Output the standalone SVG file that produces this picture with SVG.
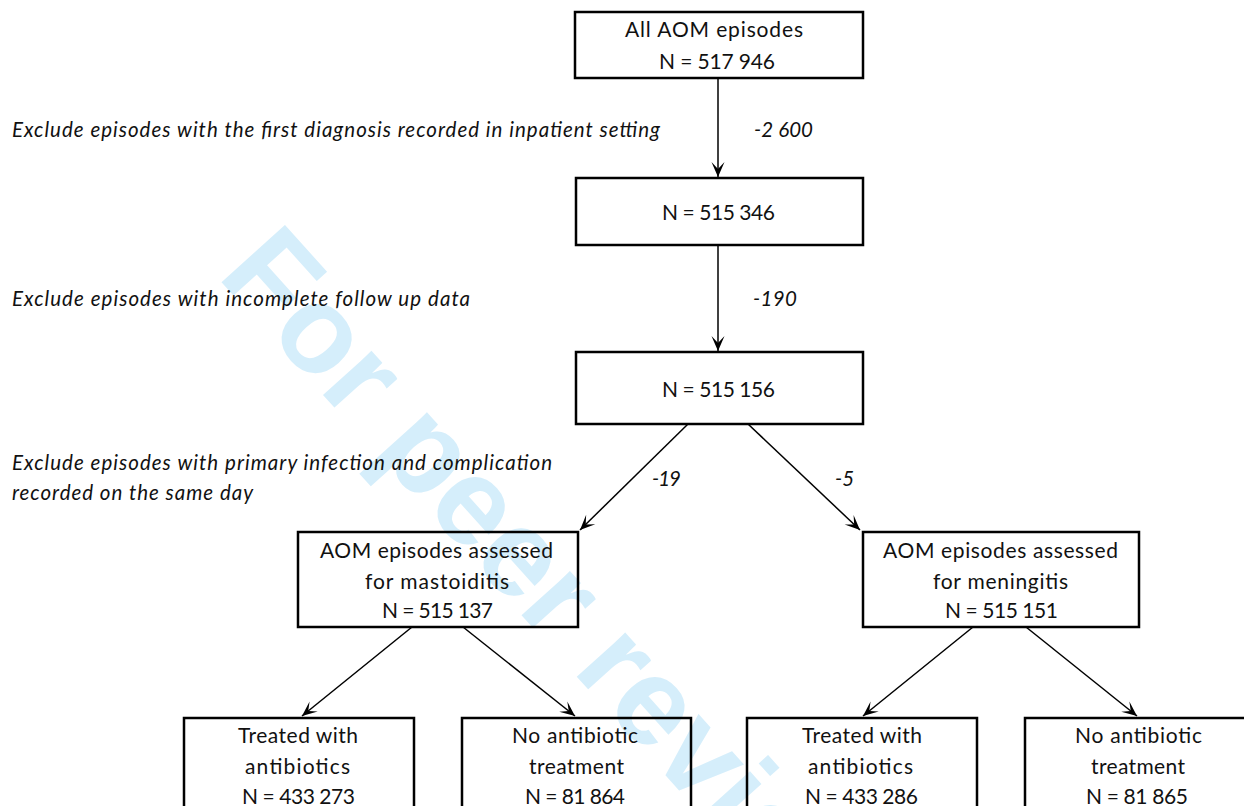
<svg xmlns="http://www.w3.org/2000/svg" width="1244" height="806" viewBox="0 0 1244 806">
<style>
.box{fill:none;stroke:#000;stroke-width:2.5}
.t{font-family:Lato,"Liberation Sans",sans-serif;font-size:21px;fill:#111;text-anchor:middle}
.lbl{font-family:Lato,"Liberation Sans",sans-serif;font-size:20.5px;font-style:italic;fill:#111}
.c{stroke:#000;stroke-width:1.5;fill:none;marker-end:url(#ah)}
.wm{font-family:"Liberation Sans",Arial,sans-serif;font-weight:bold;font-size:124px;fill:#d5eefb}
</style>
<defs>
<marker id="ah" viewBox="-16 -8 18 16" refX="0" refY="0" markerWidth="18" markerHeight="16" markerUnits="userSpaceOnUse" orient="auto">
<path d="M-15,-6.5 L0,0 L-15,6.5 L-8,0 Z" fill="#000"/>
</marker>
</defs>
<rect width="1244" height="806" fill="#fff"/>
<text class="wm" transform="translate(216,276) rotate(48)">For peer review</text>

<g id="labels">
<text class="lbl" x="12" y="137" textLength="648" lengthAdjust="spacing">Exclude episodes with the first diagnosis recorded in inpatient setting</text>
<text class="lbl" x="12" y="306" textLength="458" lengthAdjust="spacing">Exclude episodes with incomplete follow up data</text>
<text class="lbl" x="12" y="470" textLength="540" lengthAdjust="spacing">Exclude episodes with primary infection and complication</text>
<text class="lbl" x="12" y="500" textLength="241" lengthAdjust="spacing">recorded on the same day</text>
<text class="lbl" x="754" y="137" textLength="59" lengthAdjust="spacing">-2 600</text>
<text class="lbl" x="753" y="306" textLength="44" lengthAdjust="spacing">-190</text>
<text class="lbl" x="652" y="486" textLength="29" lengthAdjust="spacing">-19</text>
<text class="lbl" x="835" y="486">-5</text>
</g>

<g id="connectors">
<line class="c" x1="718" y1="78" x2="718" y2="177"/>
<line class="c" x1="718" y1="245" x2="718" y2="351"/>
<line class="c" x1="688" y1="424" x2="580" y2="530"/>
<line class="c" x1="748" y1="424" x2="860" y2="530"/>
<line class="c" x1="412" y1="627" x2="302" y2="716"/>
<line class="c" x1="463" y1="627" x2="575" y2="716"/>
<line class="c" x1="973" y1="627" x2="863" y2="716"/>
<line class="c" x1="1026" y1="627" x2="1137" y2="716"/>
</g>

<g id="n1"><rect class="box" x="575" y="12" width="288" height="66"/>
<text class="t" x="714" y="37" textLength="178" lengthAdjust="spacing">All AOM episodes</text><text class="t" x="717" y="69" textLength="116" lengthAdjust="spacing">N = 517 946</text></g>
<g id="n2"><rect class="box" x="576" y="178" width="287" height="67"/>
<text class="t" x="718.5" y="220" textLength="113" lengthAdjust="spacing">N = 515 346</text></g>
<g id="n3"><rect class="box" x="576" y="352" width="287" height="72"/>
<text class="t" x="718.5" y="397" textLength="113" lengthAdjust="spacing">N = 515 156</text></g>
<g id="n4"><rect class="box" x="298" y="532" width="280" height="95"/>
<text class="t" x="436.5" y="558" textLength="233" lengthAdjust="spacing">AOM episodes assessed</text><text class="t" x="437" y="589" textLength="144" lengthAdjust="spacing">for mastoiditis</text><text class="t" x="437.5" y="618" textLength="111" lengthAdjust="spacing">N = 515 137</text></g>
<g id="n5"><rect class="box" x="863" y="532" width="276" height="95"/>
<text class="t" x="1000.5" y="558" textLength="235" lengthAdjust="spacing">AOM episodes assessed</text><text class="t" x="1000.5" y="589" textLength="135" lengthAdjust="spacing">for meningitis</text><text class="t" x="1001.5" y="618" textLength="113" lengthAdjust="spacing">N = 515 151</text></g>
<g id="n6"><rect class="box" x="184" y="718" width="230" height="100"/>
<text class="t" x="298" y="743" textLength="120" lengthAdjust="spacing">Treated with</text><text class="t" x="297.5" y="774" textLength="105" lengthAdjust="spacing">antibiotics</text><text class="t" x="298.5" y="804" textLength="113" lengthAdjust="spacing">N = 433 273</text></g>
<g id="n7"><rect class="box" x="462" y="718" width="229" height="100"/>
<text class="t" x="575" y="743" textLength="126" lengthAdjust="spacing">No antibiotic</text><text class="t" x="576.5" y="774" textLength="95" lengthAdjust="spacing">treatment</text><text class="t" x="575" y="804" textLength="100" lengthAdjust="spacing">N = 81 864</text></g>
<g id="n8"><rect class="box" x="747" y="718" width="230" height="100"/>
<text class="t" x="862" y="743" textLength="120" lengthAdjust="spacing">Treated with</text><text class="t" x="860.5" y="774" textLength="105" lengthAdjust="spacing">antibiotics</text><text class="t" x="861.5" y="804" textLength="113" lengthAdjust="spacing">N = 433 286</text></g>
<g id="n9"><rect class="box" x="1025" y="718" width="226" height="100"/>
<text class="t" x="1138.5" y="743" textLength="127" lengthAdjust="spacing">No antibiotic</text><text class="t" x="1138" y="774" textLength="94" lengthAdjust="spacing">treatment</text><text class="t" x="1137" y="804" textLength="102" lengthAdjust="spacing">N = 81 865</text></g>
</svg>
